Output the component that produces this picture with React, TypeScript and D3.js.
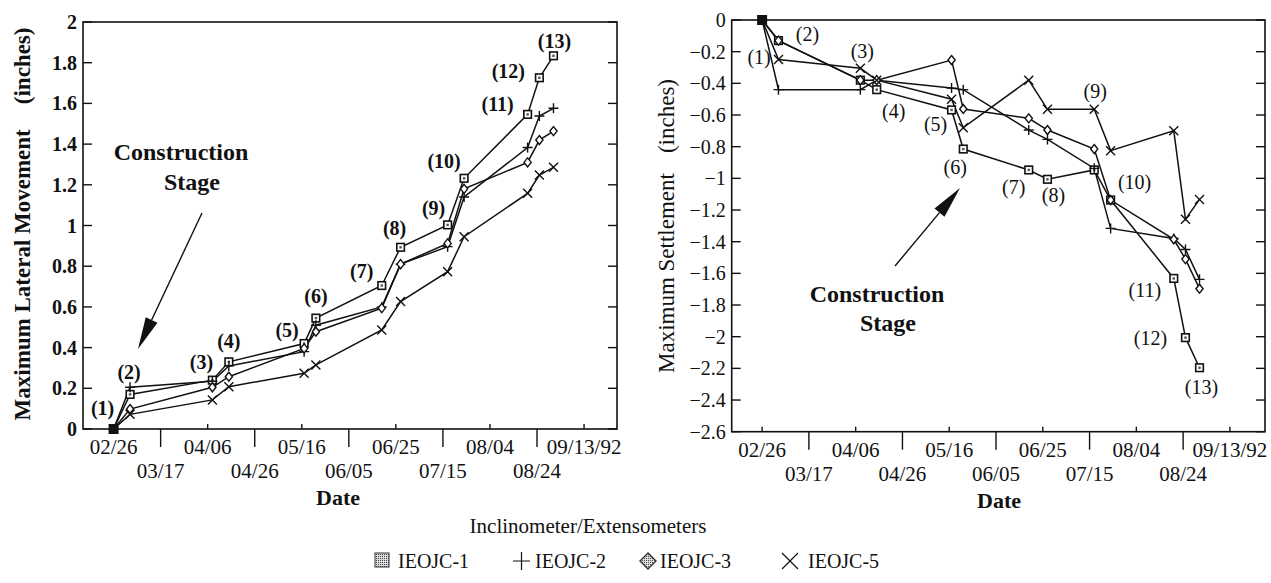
import React from "react";
import * as d3 from "d3";

// ---------- data ----------
const stageDates = [
  "1992-02-26", "1992-03-04", "1992-04-08", "1992-04-15", "1992-05-17", "1992-05-22",
  "1992-06-19", "1992-06-27", "1992-07-17", "1992-07-24", "1992-08-20", "1992-08-25", "1992-08-31",
];
const stageLabels = ["(1)", "(2)", "(3)", "(4)", "(5)", "(6)", "(7)", "(8)", "(9)", "(10)", "(11)", "(12)", "(13)"];

// Maximum lateral movement (inches)
const lateral1 = [0, 0.17, 0.24, 0.33, 0.42, 0.545, 0.705, 0.893, 1.003, 1.232, 1.546, 1.726, 1.834];
const lateral2 = [0, 0.205, 0.235, 0.31, 0.38, 0.51, 0.6, 0.81, 0.896, 1.14, 1.383, 1.538, 1.576];
const lateral3 = [0, 0.098, 0.205, 0.257, 0.396, 0.478, 0.594, 0.81, 0.912, 1.18, 1.31, 1.42, 1.464];
const lateral5 = [0, 0.072, 0.143, 0.208, 0.274, 0.315, 0.487, 0.626, 0.773, 0.945, 1.158, 1.248, 1.286];

// Maximum settlement (inches)
const settle1 = [0, -0.13, -0.38, -0.44, -0.568, -0.815, -0.947, -1.006, -0.947, -1.137, -1.632, -2.006, -2.196];
const settle2 = [0, -0.44, -0.44, -0.38, -0.43, -0.44, -0.695, -0.754, -0.937, -1.316, -1.38, -1.449, -1.638];
const settle3 = [0, -0.13, -0.38, -0.38, -0.253, -0.562, -0.621, -0.695, -0.815, -1.137, -1.385, -1.51, -1.697];
const settle5 = [0, -0.25, -0.305, -0.38, -0.5, -0.68, -0.38, -0.564, -0.564, -0.825, -0.7, -1.259, -1.133];

const seriesNames = ["IEOJC-1", "IEOJC-2", "IEOJC-3", "IEOJC-5"];
const seriesMarkers = ["square", "plus", "diamond", "cross"];

const xTickLabels = ["02/26", "03/17", "04/06", "04/26", "05/16", "06/05", "06/25", "07/15", "08/04", "08/24", "09/13/92"];
const leftYTicks = [0, 0.2, 0.4, 0.6, 0.8, 1, 1.2, 1.4, 1.6, 1.8, 2];
const rightYTicks = [0, -0.2, -0.4, -0.6, -0.8, -1, -1.2, -1.4, -1.6, -1.8, -2, -2.2, -2.4, -2.6];

// label offsets (px) relative to IEOJC-1 point of each stage
const leftLabelOffsets = [
  [-11, -21], [-1, -22], [-11, -18], [0, -21], [-17, -14], [0, -22], [-20, -15],
  [-6, -19], [-14, -17], [-20, -17], [-30, -10], [-31, -7], [1, -15],
];
const rightLabelOffsets = [
  [-3, 37], [29, -7], [2, -29], [17, 21], [-16, 14], [-8, 18], [-15, 17],
  [6, 16], [1, -79], [24, -18], [-29, 12], [-35, 0], [2, 19],
];

// ---------- helpers ----------
const parse = d3.utcParse("%Y-%m-%d");
const FONT = "'Liberation Serif','Times New Roman',serif";
const W = 1271;
const H = 583;

function Marker({ type, x, y }: { type: string; x: number; y: number }) {
  if (type === "square") {
    return (
      <g>
        <rect x={x - 3.8} y={y - 3.8} width={7.6} height={7.6} fill="#fff" stroke="#111" strokeWidth={1.6} />
        <rect x={x - 1.2} y={y - 1.2} width={2.4} height={2.4} fill="#555" />
      </g>
    );
  }
  if (type === "plus") {
    return <path d={`M${x - 5},${y}H${x + 5}M${x},${y - 5}V${y + 5}`} stroke="#111" strokeWidth={1.4} fill="none" />;
  }
  if (type === "diamond") {
    return <path d={`M${x},${y - 4.5}L${x + 3.6},${y}L${x},${y + 4.5}L${x - 3.6},${y}Z`} stroke="#111" strokeWidth={1.4} fill="#fff" />;
  }
  return (
    <path d={`M${x - 4.5},${y - 4.5}L${x + 4.5},${y + 4.5}M${x + 4.5},${y - 4.5}L${x - 4.5},${y + 4.5}`} stroke="#111" strokeWidth={1.4} fill="none" />
  );
}

function Arrow({ x1, y1, x2, y2 }: { x1: number; y1: number; x2: number; y2: number }) {
  const len = Math.hypot(x2 - x1, y2 - y1);
  const ux = (x2 - x1) / len;
  const uy = (y2 - y1) / len;
  const hl = 32;
  const hw = 6.5;
  const bx = x2 - ux * hl;
  const by = y2 - uy * hl;
  const px = -uy;
  const py = ux;
  return (
    <g>
      <line x1={x1} y1={y1} x2={bx} y2={by} stroke="#111" strokeWidth={1.4} />
      <path d={`M${x2},${y2}L${bx + px * hw},${by + py * hw}L${bx - px * hw},${by - py * hw}Z`} fill="#111" />
    </g>
  );
}

type PanelProps = {
  x0: number; x1: number; yTop: number; yBot: number;
  dStart: string; dEnd: string; yDomain: [number, number];
  yTicks: number[]; series: number[][]; labelOffsets: number[][];
  yTickFont: number; yTickWeight: string; labelWeight: string; dateX: number;
};

function Panel(p: PanelProps) {
  const x = d3.scaleUtc().domain([parse(p.dStart)!, parse(p.dEnd)!]).range([p.x0, p.x1]);
  const y = d3.scaleLinear().domain(p.yDomain).range([p.yBot, p.yTop]);
  const dates = stageDates.map((d) => parse(d)!);
  const line = d3.line<number>().x((_, i) => x(dates[i])).y((v) => y(v));
  const start = parse("1992-02-26")!;
  const tickDates = xTickLabels.map((_, i) => d3.utcDay.offset(start, 20 * i));
  return (
    <g fontFamily={FONT} fill="#111">
      <rect x={p.x0} y={p.yTop} width={p.x1 - p.x0} height={p.yBot - p.yTop} fill="none" stroke="#111" strokeWidth={1.6} />
      {p.yTicks.map((t) => (
        <g key={t}>
          <line x1={p.x0} x2={p.x0 + 9} y1={y(t)} y2={y(t)} stroke="#111" strokeWidth={1.4} />
          <line x1={p.x1 - 9} x2={p.x1} y1={y(t)} y2={y(t)} stroke="#111" strokeWidth={1.4} />
          <text x={p.x0 - 6} y={y(t)} textAnchor="end" dominantBaseline="central" fontSize={p.yTickFont} fontWeight={p.yTickWeight}>
            {d3.format("~g")(t)}
          </text>
        </g>
      ))}
      {tickDates.map((d, i) => {
        const tx = x(d);
        const odd = i % 2 === 1;
        return (
          <g key={i}>
            {odd ? (
              <line x1={tx} x2={tx} y1={p.yBot} y2={p.yBot + 18} stroke="#111" strokeWidth={1.4} />
            ) : (
              <line x1={tx} x2={tx} y1={p.yBot} y2={p.yBot - 5} stroke="#111" strokeWidth={1.4} />
            )}
            <text x={tx} y={p.yBot + (odd ? 49 : 25)} textAnchor="middle" fontSize={21}>
              {xTickLabels[i]}
            </text>
          </g>
        );
      })}
      {p.series.map((s, k) => (
        <path key={k} d={line(s) || ""} fill="none" stroke="#111" strokeWidth={1.5} />
      ))}
      {p.series.map((s, k) =>
        s.map((v, i) => (i === 0 ? null : <Marker key={`${k}-${i}`} type={seriesMarkers[k]} x={x(dates[i])} y={y(v)} />))
      )}
      {/* stage (1): all series coincide -> solid black marker */}
      <rect x={x(dates[0]) - 5} y={y(p.series[0][0]) - 5} width={10} height={10} fill="#111" />
      {stageLabels.map((lab, i) => (
        <text
          key={lab}
          x={x(dates[i]) + p.labelOffsets[i][0]}
          y={y(p.series[0][i]) + p.labelOffsets[i][1]}
          textAnchor="middle"
          dominantBaseline="central"
          fontSize={20}
          fontWeight={p.labelWeight}
        >
          {lab}
        </text>
      ))}
      <text x={p.dateX} y={p.yBot + 76} textAnchor="middle" fontSize={22} fontWeight="bold">
        Date
      </text>
    </g>
  );
}

export default function App() {
  return (
    <svg width={W} height={H} style={{ position: "absolute", left: 0, top: 0, background: "#fff" }}>
      <rect x={0} y={0} width={W} height={H} fill="#fff" />
      <Panel
        x0={83} x1={617} yTop={22} yBot={429}
        dStart="1992-02-13" dEnd="1992-09-27" yDomain={[0, 2]}
        yTicks={leftYTicks} series={[lateral1, lateral2, lateral3, lateral5]}
        labelOffsets={leftLabelOffsets} yTickFont={20} yTickWeight="bold" labelWeight="bold" dateX={338}
      />
      <Panel
        x0={731.7} x1={1265} yTop={20} yBot={431.7}
        dStart="1992-02-13" dEnd="1992-09-28" yDomain={[-2.6, 0]}
        yTicks={rightYTicks} series={[settle1, settle2, settle3, settle5]}
        labelOffsets={rightLabelOffsets} yTickFont={20} yTickWeight="normal" labelWeight="normal" dateX={999}
      />
      <g fontFamily={FONT} fill="#111">
        {/* y-axis titles */}
        <text transform="translate(22,224) rotate(-90)" textAnchor="middle" dominantBaseline="central" fontSize={23} fontWeight="bold">
          Maximum Lateral Movement<tspan dx={25}>(inches)</tspan>
        </text>
        <text transform="translate(666,226) rotate(-90)" textAnchor="middle" dominantBaseline="central" fontSize={23}>
          Maximum Settlement<tspan dx={20}>(inches)</tspan>
        </text>
        {/* construction stage annotations */}
        <text x={181} y={160} textAnchor="middle" fontSize={24} fontWeight="bold">Construction</text>
        <text x={192} y={190} textAnchor="middle" fontSize={24} fontWeight="bold">Stage</text>
        <Arrow x1={202} y1={213} x2={138} y2={349} />
        <text x={877} y={302} textAnchor="middle" fontSize={24} fontWeight="bold">Construction</text>
        <text x={888} y={331} textAnchor="middle" fontSize={24} fontWeight="bold">Stage</text>
        <Arrow x1={895} y1={266} x2={960} y2={188} />
        {/* legend */}
        <text x={588} y={533} textAnchor="middle" fontSize={21}>Inclinometer/Extensometers</text>
        <defs>
          <pattern id="stip" width={2} height={2} patternUnits="userSpaceOnUse">
            <rect width={2} height={2} fill="#ddd" />
            <rect width={1} height={1} fill="#444" />
          </pattern>
        </defs>
        <rect x={375} y={553} width={14} height={14} fill="url(#stip)" stroke="#333" strokeWidth={1} />
        <text x={398} y={568} fontSize={20}>{seriesNames[0]}</text>
        <path d="M513,561H530M521.5,552V570" stroke="#111" strokeWidth={1.2} />
        <text x={535} y={568} fontSize={20}>{seriesNames[1]}</text>
        <path d="M648,553L656,561L648,569L640,561Z" fill="url(#stip)" stroke="#333" strokeWidth={1.4} />
        <text x={660} y={568} fontSize={20}>{seriesNames[2]}</text>
        <path d="M782,553L798,569M798,553L782,569" stroke="#111" strokeWidth={1.2} />
        <text x={808} y={568} fontSize={20}>{seriesNames[3]}</text>
      </g>
    </svg>
  );
}
